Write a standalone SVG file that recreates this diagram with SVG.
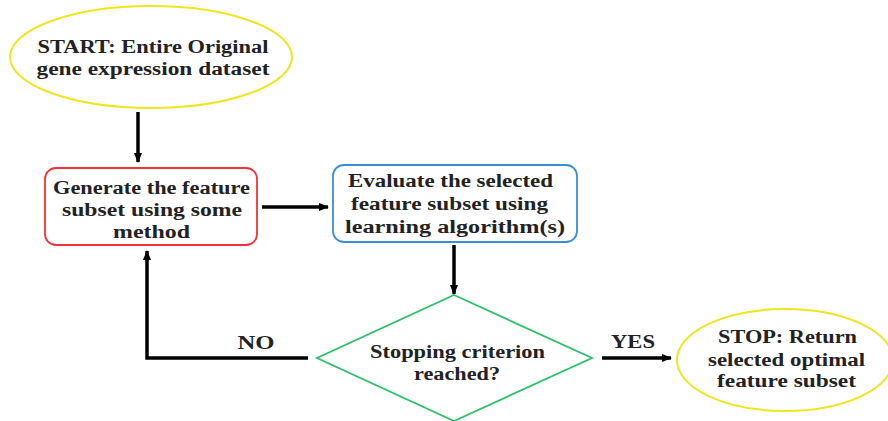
<svg xmlns="http://www.w3.org/2000/svg" width="888" height="421" viewBox="0 0 888 421">
<style>
text{font-family:"Liberation Serif","Times New Roman",serif;font-weight:bold;font-size:18px;fill:#222;text-anchor:middle}
.c{stroke:#000;stroke-width:3.5;fill:none}
</style>
<defs>
<marker id="ah" viewBox="0 0 10 10" refX="9" refY="5" markerWidth="3" markerHeight="3" orient="auto"><path d="M0,1 L10,5 L0,9 z" fill="#000"/></marker>
</defs>
<rect width="888" height="421" fill="#fff"/>
<g id="connectors">
<line class="c" x1="138" y1="112" x2="138" y2="162" marker-end="url(#ah)"/>
<line class="c" x1="262" y1="207" x2="328" y2="207" marker-end="url(#ah)"/>
<line class="c" x1="454" y1="245" x2="454" y2="294" marker-end="url(#ah)"/>
<polyline class="c" points="308,358 147,358 147,251" marker-end="url(#ah)"/>
<line class="c" x1="602" y1="358" x2="671" y2="358" marker-end="url(#ah)"/>
<text x="256" y="349" textLength="37" lengthAdjust="spacingAndGlyphs">NO</text>
<text x="633" y="348" textLength="44" lengthAdjust="spacingAndGlyphs">YES</text>
</g>
<g id="start">
<ellipse cx="151" cy="57" rx="141" ry="51" fill="#fff" stroke="#f0e620" stroke-width="2"/>
<text x="153" y="53" textLength="231" lengthAdjust="spacingAndGlyphs">START: Entire Original</text>
<text x="153" y="75" textLength="233" lengthAdjust="spacingAndGlyphs">gene expression dataset</text>
</g>
<g id="generate">
<rect x="45" y="168" width="212" height="77" rx="11" fill="#fff" stroke="#f0343a" stroke-width="1.8"/>
<text x="151.5" y="194" textLength="197" lengthAdjust="spacingAndGlyphs">Generate the feature</text>
<text x="152" y="216" textLength="180" lengthAdjust="spacingAndGlyphs">subset using some</text>
<text x="151.5" y="238" textLength="77" lengthAdjust="spacingAndGlyphs">method</text>
</g>
<g id="evaluate">
<rect x="333" y="165" width="244" height="77" rx="11" fill="#fff" stroke="#3a8fd0" stroke-width="1.8"/>
<text x="450.5" y="187" textLength="205" lengthAdjust="spacingAndGlyphs">Evaluate the selected</text>
<text x="449.5" y="210" textLength="197" lengthAdjust="spacingAndGlyphs">feature subset using</text>
<text x="455" y="233" textLength="220" lengthAdjust="spacingAndGlyphs">learning algorithm(s)</text>
</g>
<g id="decision">
<polygon points="454,295 592,358 454,421 317,358" fill="#fff" stroke="#2fbf6a" stroke-width="1.8"/>
<text x="457.5" y="358" textLength="175" lengthAdjust="spacingAndGlyphs">Stopping criterion</text>
<text x="457" y="380" textLength="86" lengthAdjust="spacingAndGlyphs">reached?</text>
</g>
<g id="stop">
<ellipse cx="785" cy="360" rx="108" ry="51" fill="#fff" stroke="#f0e620" stroke-width="2"/>
<text x="787.5" y="343" textLength="139" lengthAdjust="spacingAndGlyphs">STOP: Return</text>
<text x="786.5" y="366" textLength="157" lengthAdjust="spacingAndGlyphs">selected optimal</text>
<text x="786.5" y="387" textLength="139" lengthAdjust="spacingAndGlyphs">feature subset</text>
</g>
</svg>
